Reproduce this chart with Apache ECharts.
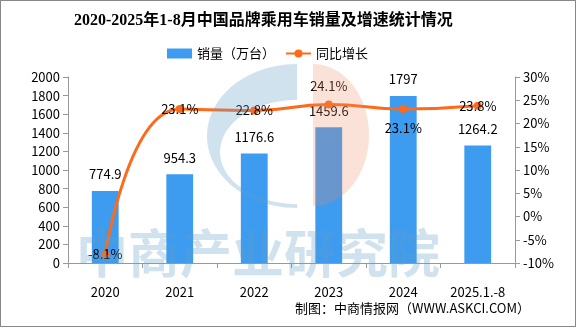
<!DOCTYPE html>
<html><head><meta charset="utf-8">
<script src="https://cdn.jsdelivr.net/npm/echarts@6/dist/echarts.min.js"></script>
<style>html,body{margin:0;padding:0;background:#fff}#c{width:574px;height:325px;border:1px solid #888}</style>
</head><body><div id="c"></div>
<script>
const categories = ['2020','2021','2022','2023','2024','2025.1.-8'];
const sales = [774.9, 954.3, 1176.6, 1459.6, 1797, 1264.2];
const growth = [-8.1, 23.1, 22.8, 24.1, 23.1, 23.8];
const growthLabelPos = ['inside','inside','inside','top','bottom','inside'];
const leftTicks = [0, 2000, 200];
const rightTicks = [-10, 30, 5];

// decorative watermark outline helper (half ellipse)
function halfEllipse(cx, cy, rx, ry, fromDeg, toDeg, n) {
  const pts = [];
  for (let i = 0; i <= n; i++) {
    const a = (fromDeg + (toDeg - fromDeg) * i / n) * Math.PI / 180;
    pts.push([cx + rx * Math.cos(a), cy + ry * Math.sin(a)]);
  }
  return pts;
}
const logoC = halfEllipse(296, 135, 90, 72, -90, -270, 48)
  .concat(halfEllipse(296, 151, 77, 52, 90, 270, 48));
const logoHalf = halfEllipse(312, 134, 56, 71, -90, 90, 48);

const font = '"Noto Sans CJK SC", "DejaVu Sans", sans-serif';
const chart = echarts.init(document.getElementById('c'));
chart.setOption({
  animation:false,
  textStyle:{fontFamily:font},
  title:{text:'2020-2025年1-8月中国品牌乘用车销量及增速统计情况',left:68,top:7,
    textStyle:{fontSize:16,fontWeight:'bold',color:'#000',fontFamily:'"Liberation Serif","Noto Sans CJK SC",serif'}},
  legend:{top:41,left:161,itemGap:10,itemWidth:25,itemHeight:10,
    textStyle:{fontSize:13,color:'#000'},
    data:[{name:'销量（万台）',icon:'rect'},{name:'同比增长'}]},
  graphic:[
    {type:'polygon',z:100,silent:true,shape:{points:logoC},style:{fill:'rgba(100,160,200,0.3)'}},
    {type:'polygon',z:100,silent:true,shape:{points:logoHalf},style:{fill:'rgba(240,140,100,0.25)'}},
    {type:'text',z:100,silent:true,left:75,top:226,style:{text:'中商产业研究院',fontSize:52,fontWeight:'bold',fill:'rgba(100,160,200,0.3)',fontFamily:font}},
    {type:'text',right:45,top:301,style:{text:'制图：中商情报网（WWW.ASKCI.COM）',fontSize:13,fill:'#000',fontFamily:font}}
  ],
  grid:{left:67,right:60,top:76,bottom:63},
  xAxis:{type:'category',data:categories,
    axisLine:{lineStyle:{color:'#999'}},
    axisTick:{show:true,alignWithLabel:false,lineStyle:{color:'#999'},length:5},
    axisLabel:{color:'#000',fontSize:13,margin:23,interval:0}},
  yAxis:[
    {type:'value',min:leftTicks[0],max:leftTicks[1],interval:leftTicks[2],
     axisLine:{show:true,lineStyle:{color:'#999'}},axisTick:{show:true,lineStyle:{color:'#999'}},
     splitLine:{show:false},axisLabel:{color:'#000',fontSize:13,formatter:v=>String(v)}},
    {type:'value',min:rightTicks[0],max:rightTicks[1],interval:rightTicks[2],
     axisLine:{show:true,lineStyle:{color:'#999'}},axisTick:{show:true,lineStyle:{color:'#999'}},
     splitLine:{show:false},axisLabel:{color:'#000',fontSize:13,formatter:'{value}%'}}
  ],
  series:[
    {name:'销量（万台）',type:'bar',data:sales,barWidth:'36%',itemStyle:{color:'#3d9bf0'},
     label:{show:true,position:'top',distance:10,color:'#000',fontSize:13}},
    {name:'同比增长',type:'line',yAxisIndex:1,smooth:true,symbol:'circle',symbolSize:8,
     data:growth.map((v,i)=>({value:v,label:{position:growthLabelPos[i]}})),
     lineStyle:{color:'#ff6a1a',width:3},itemStyle:{color:'#ff6a1a'},
     label:{show:true,color:'#000',fontSize:13,distance:8,formatter:p=>p.value+'%'}}
  ]
});
</script></body></html>
